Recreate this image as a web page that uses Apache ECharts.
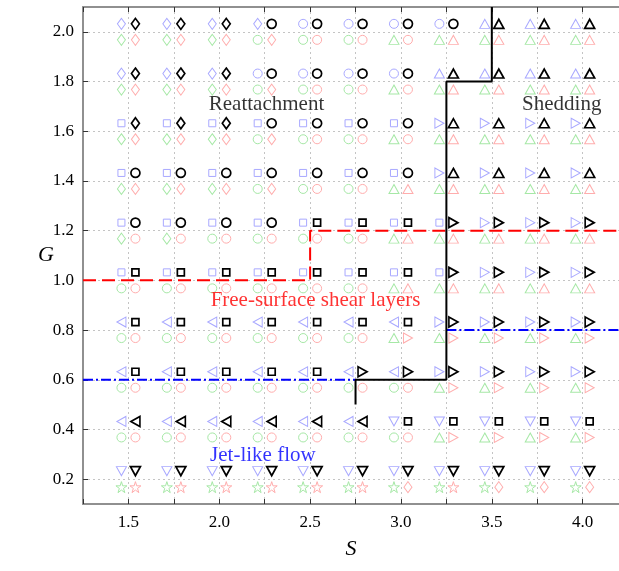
<!DOCTYPE html>
<html><head><meta charset="utf-8">
<script src="https://cdn.jsdelivr.net/npm/echarts@6/dist/echarts.min.js"></script>
<style>html,body{margin:0;padding:0;background:#fff}#c{width:619px;height:571px}</style>
</head><body><div id="c"></div>
<script>
// ---- data ----
const S = [1.5, 1.75, 2.0, 2.25, 2.5, 2.75, 3.0, 3.25, 3.5, 3.75, 4.0];
const G = [2.0, 1.8, 1.6, 1.4, 1.2, 1.0, 0.8, 0.6, 0.4, 0.2];
// shape codes: D diamond, O circle, S square, ^ up, v down, < left, > right, * star
const blueShapes  = ["DDDDOOOO^^^","DDDOOOO^^^^","SSSSSSS>>>>","SSSSSSS>>>>","SSSSSSSS>>>","SSSSSSSS>>>","<<<<<<<>>>>","<<<<<<<>>>>","<<<<<<vvvvv","vvvvvvvvvvv"];
const blackShapes = ["DDDOOOOO^^^","DDDOOOO^^^^","DDDOOOO^^^^","OOOOOOO^^^^","OOOOSSS>>>>","SSSSSSS>>>>","SSSSSSS>>>>","SSSSS>>>>>>","<<<<<<SSSSS","vvvvvvvvvvv"];
const greenShapes = ["DDDOOO^^^^^","DDDOOO^^^^^","DDDOOO^^^^^","DDDOOO^^^^^","DDOOOO^^^^^","OOOOOO^^^^^","OOOOOO^^^^^","OOOOOOO^^^^","OOOOOOO^^^^","***********"];
const redShapes   = ["DDDDOOO^^^^","DDDDOOO^^^^","DDDDOOO^^^^","DDDDOO^^^^^","OOOOOO^^^^^","OOOOOO^^^^^","OOOOOO>>>>>","OOOOOOO>>>>","OOOOOOO>>>>","******D*DDD"];
// boundary lines
const sheddingLine = [[3.5,2.1],[3.5,1.8],[3.25,1.8],[3.25,0.6],[2.75,0.6],[2.75,0.5]];
const shearLine = [[1.25,1.0],[2.5,1.0],[2.5,1.2],[4.2,1.2]];
const jetLine1 = [[1.25,0.6],[2.75,0.6]];
const jetLine2 = [[3.25,0.8],[4.2,0.8]];
// annotations
const noteText = ["Reattachment","Shedding","Free-surface shear layers","Jet-like flow"];
const noteS = [2.26, 3.885, 2.53, 2.24];
const noteG = [1.706, 1.706, 0.918, 0.294];
const xTicks = [1.5, 2.0, 2.5, 3.0, 3.5, 4.0];
const yTicks = [0.2, 0.4, 0.6, 0.8, 1.0, 1.2, 1.4, 1.6, 1.8, 2.0];

// ---- styles ----
const FONT = 'Liberation Serif';
const SYM = {
  'O': {symbol:'circle', size:9},
  'S': {symbol:'rect', size:7},
  'D': {symbol:'diamond', size:[8,11]},
  '^': {symbol:'path://M5,0 L10,9 L0,9 Z', size:[10,9]},
  'v': {symbol:'path://M0,0 L10,0 L5,9 Z', size:[10,9]},
  '<': {symbol:'path://M9,0 L9,10 L0,5 Z', size:[9,10]},
  '>': {symbol:'path://M0,0 L9,5 L0,10 Z', size:[9,10]},
  '*': {symbol:'path://M5,0 L6.18,3.62 L10,3.62 L6.9,5.86 L8.09,9.51 L5,7.27 L1.91,9.51 L3.1,5.86 L0,3.62 L3.82,3.62 Z', size:[11,11]}
};
function markerSeries(shapes, color, offset, width, z) {
  const data = [];
  G.forEach((g, i) => S.forEach((s, j) => {
    const m = SYM[shapes[i][j]];
    data.push({value:[s, g], symbol:m.symbol, symbolSize:m.size});
  }));
  return {type:'scatter', data, symbolOffset:offset, z,
    itemStyle:{color:'rgba(0,0,0,0)', borderColor:color, borderWidth:width, opacity:1},
    emphasis:{disabled:true}, silent:true};
}
const lineBase = {type:'line', showSymbol:false, symbol:'none', silent:true, z:5};

const chart = echarts.init(document.getElementById('c'), null, {renderer:'canvas'});
chart.setOption({
  animation:false,
  backgroundColor:'#fff',
  grid:{left:83, right:0, top:7, bottom:67},
  xAxis:[{
    type:'value', min:1.25, max:4.2, interval:0.25,
    name:'S', nameLocation:'middle', nameGap:34,
    nameTextStyle:{fontFamily:FONT, fontStyle:'italic', fontSize:22, color:'#000'},
    axisLine:{show:true, lineStyle:{color:'#909090', width:2}},
    axisTick:{show:true, inside:true, length:5, lineStyle:{color:'#333', width:1}},
    axisLabel:{fontFamily:FONT, fontSize:17, color:'#000', margin:10, showMaxLabel:false,
      formatter:v => (xTicks.some(t => Math.abs(t - v) < 1e-6) ? v.toFixed(1) : '')},
    splitLine:{show:true, lineStyle:{color:'#c4c4c4', width:1, type:[2,3]}}
  },{
    type:'value', position:'top', min:1.25, max:4.2, interval:0.25,
    axisLine:{show:true, lineStyle:{color:'#909090', width:2}},
    axisTick:{show:true, inside:true, length:5, lineStyle:{color:'#333', width:1}},
    axisLabel:{show:false}, splitLine:{show:false}
  }],
  yAxis:{
    type:'value', min:0.1, max:2.1,
    name:'G', nameLocation:'middle', nameGap:29, nameRotate:0, nameMoveOverlap:false,
    nameTextStyle:{fontFamily:FONT, fontStyle:'italic', fontSize:22, color:'#000'},
    axisLine:{show:true, lineStyle:{color:'#909090', width:2}},
    axisTick:{show:true, inside:true, length:5, customValues:yTicks, lineStyle:{color:'#333', width:1}},
    axisLabel:{fontFamily:FONT, fontSize:17, color:'#000', margin:9, customValues:yTicks,
      formatter:v => v.toFixed(1)},
    splitLine:{show:true, lineStyle:{color:'#c4c4c4', width:1, type:[2,3]}}
  },
  series:[
    markerSeries(blueShapes, '#a8a8ff', [-7,-8], 1, 2),
    markerSeries(greenShapes, '#a6e8a6', [-7,8], 1, 2),
    markerSeries(redShapes, '#ffadad', [7,8], 1, 2),
    markerSeries(blackShapes, '#000', [7,-8], 1.7, 3),
    Object.assign({}, lineBase, {data:jetLine1, lineStyle:{color:'#0000ff', width:2, type:[10,3,2,3]}}),
    Object.assign({}, lineBase, {data:jetLine2, lineStyle:{color:'#0000ff', width:2, type:[10,3,2,3]}}),
    Object.assign({}, lineBase, {data:shearLine, lineStyle:{color:'#ff0000', width:2, type:[13,6]}}),
    Object.assign({}, lineBase, {data:sheddingLine, z:6, lineStyle:{color:'#000', width:2}}),
    {type:'scatter', symbolSize:0, silent:true, z:7,
      data:noteText.map((t, i) => ({value:[noteS[i], noteG[i]], name:t,
        label:{color:['#000','#000','#ff0000','#0000ff'][i]}})),
      label:{show:true, position:'inside', formatter:p => p.name, fontFamily:FONT, fontSize:21}}
  ]
});
</script></body></html>
